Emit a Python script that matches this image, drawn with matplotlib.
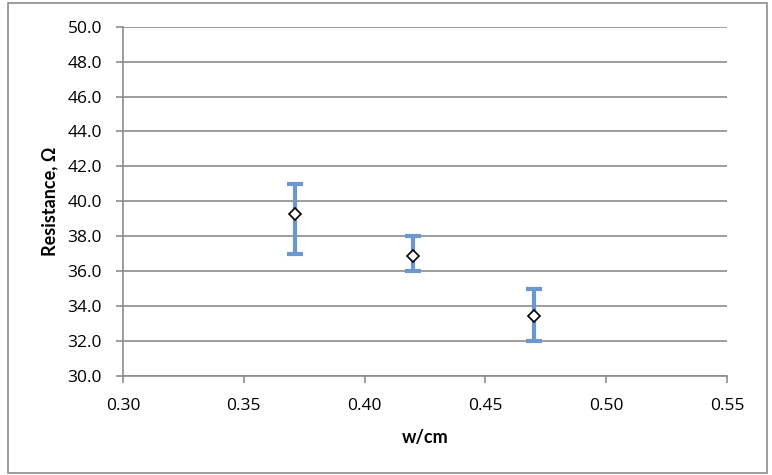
import matplotlib.pyplot as plt
from matplotlib.patches import Rectangle

# data
w = [0.371, 0.420, 0.470]
resistance = [39.25, 36.85, 33.45]
err_low = [37.0, 36.0, 32.0]
err_high = [41.0, 38.0, 35.0]

x_ticks = [0.30, 0.35, 0.40, 0.45, 0.50, 0.55]
y_ticks = [30, 32, 34, 36, 38, 40, 42, 44, 46, 48, 50]

plt.rcParams['font.family'] = ['Open Sans', 'DejaVu Sans']

fig = plt.figure(figsize=(7.72, 4.75), dpi=100)
ax = fig.add_axes([123 / 772, 1 - 376 / 475, (727 - 123) / 772, (376 - 26.7) / 475])

# outer chart border
fig.patches.append(Rectangle((7.5 / 772, 1 - 472.5 / 475), 759.5 / 772, 469.5 / 475,
                             transform=fig.transFigure, fill=False,
                             edgecolor='#8c8c8c', linewidth=1.2))

lower = [r - lo for r, lo in zip(resistance, err_low)]
upper = [hi - r for r, hi in zip(resistance, err_high)]
ax.errorbar(w, resistance, yerr=[lower, upper], fmt='none',
            ecolor='#6a98cf', elinewidth=3, capsize=6, capthick=3, zorder=3)
ax.plot(w, resistance, linestyle='none', marker='D', markersize=6.5,
        markerfacecolor='white', markeredgecolor='black', markeredgewidth=1.2, zorder=4)

ax.set_xlim(0.30, 0.55)
ax.set_ylim(30, 50)
ax.set_xticks(x_ticks)
ax.set_xticklabels([f'{t:.2f}' for t in x_ticks])
ax.set_yticks(y_ticks)
ax.set_yticklabels([f'{t:.1f}' for t in y_ticks])
ax.yaxis.grid(True, color='#8c8c8c', linewidth=1.2)
ax.set_axisbelow(True)

for side in ['top', 'right']:
    ax.spines[side].set_visible(False)
for side in ['left', 'bottom']:
    ax.spines[side].set_color('#8c8c8c')
    ax.spines[side].set_linewidth(1.2)
ax.tick_params(axis='both', colors='#8c8c8c', labelcolor='black', labelsize=12.5,
               length=5, width=1.2, direction='out')
ax.tick_params(axis='x', pad=11)
ax.tick_params(axis='y', pad=10)

label_font = dict(family=['Lato', 'DejaVu Sans'], fontsize=13, fontweight='bold')
ax.set_xlabel('w/cm', labelpad=11, **label_font)
ax.set_ylabel('Resistance, Ω', labelpad=7, **label_font)

fig.savefig('out.png', dpi=100)
